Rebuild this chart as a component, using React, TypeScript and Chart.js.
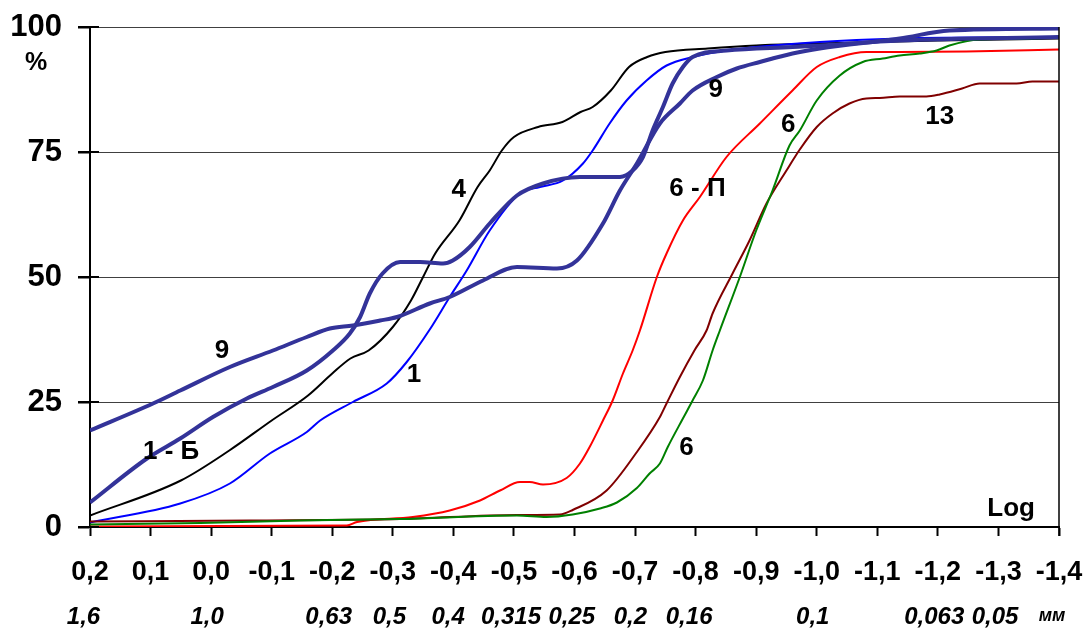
import React, { useEffect, useRef } from 'react';
import { Chart, registerables } from 'chart.js';
Chart.register(...registerables);

const FONT = 'Arial, "Liberation Sans", sans-serif';

// log10 of grain size (mm) on the x axis, cumulative % on the y axis
const xMin = -1.4;
const xMax = 0.2;
const yMin = 0;
const yMax = 100;

// second row of x labels: grain size in mm
const mmValues = [1.6, 1.0, 0.63, 0.5, 0.4, 0.315, 0.25, 0.2, 0.16, 0.1, 0.063, 0.05];
const mmLabels = ['1,6', '1,0', '0,63', '0,5', '0,4', '0,315', '0,25', '0,2', '0,16', '0,1', '0,063', '0,05'];

// curve 9
const c9X = [0.2, 0.096, 0.051, -0.031, -0.102, -0.158, -0.196, -0.234, -0.279, -0.307, -0.361, -0.394, -0.449, -0.505, -0.571, -0.604, -0.647, -0.675, -0.703, -0.741, -0.774, -0.795, -0.835, -0.868, -0.906, -0.96, -1.005, -1.137, -1.219, -1.4];
const c9Y = [19.3, 24.7, 27.3, 32, 35.3, 38, 39.7, 40.3, 41.3, 42, 44.7, 46, 49.3, 52, 51.7, 53.3, 60.7, 67.3, 72.7, 80.7, 84.7, 87.3, 90, 91.7, 93, 94.7, 95.7, 97.7, 99.3, 99.7];

// curve 1 - Б
const c1bX = [0.2, 0.106, 0.051, -0.003, -0.059, -0.102, -0.158, -0.201, -0.229, -0.246, -0.262, -0.283, -0.312, -0.345, -0.383, -0.399, -0.427, -0.46, -0.505, -0.548, -0.609, -0.675, -0.696, -0.713, -0.729, -0.746, -0.762, -0.779, -0.795, -0.851, -0.96, -1.005, -1.137, -1.4];
const c1bY = [4.9, 13.7, 17.7, 22, 25.7, 28, 31.3, 35.3, 38.7, 42, 46.7, 50.7, 53, 53, 52.7, 53.3, 56, 60.7, 66.3, 68.7, 70, 70, 71.3, 74, 79.3, 84, 88.7, 92, 94, 95.3, 96, 96.3, 97.3, 98];

// curve 4
const c4X = [0.2, 0.05, -0.03, -0.1, -0.16, -0.2, -0.23, -0.26, -0.3, -0.33, -0.35, -0.37, -0.41, -0.44, -0.46, -0.48, -0.5, -0.54, -0.58, -0.61, -0.63, -0.66, -0.69, -0.72, -0.75, -0.82, -0.9, -1.0, -1.2, -1.4];
const c4Y = [2.3, 9.3, 15.3, 21.3, 26.3, 30.7, 33.7, 35.3, 40, 45.3, 50, 54.7, 61.3, 68, 71.3, 75.3, 78, 80, 81, 83, 84, 87.3, 92, 94, 95, 95.7, 96.3, 96.7, 97.3, 97.7];

// curve 1
const c1X = [0.2, 0.051, -0.031, -0.097, -0.158, -0.18, -0.234, -0.29, -0.323, -0.361, -0.394, -0.422, -0.46, -0.51, -0.543, -0.581, -0.614, -0.63, -0.658, -0.686, -0.719, -0.752, -0.795, -0.851, -1.005, -1.137, -1.4];
const c1Y = [0.9, 4.7, 8.7, 14.7, 19, 21.3, 25, 28.7, 33, 39.5, 46, 51.3, 59.3, 66.7, 68, 69.3, 72.7, 75.3, 80.7, 85.3, 89.3, 92.3, 94, 95.3, 97, 97.7, 98];

// curve 6 - П
const c6pX = [0.2, -0.224, -0.241, -0.333, -0.394, -0.444, -0.477, -0.51, -0.526, -0.548, -0.587, -0.609, -0.625, -0.647, -0.663, -0.68, -0.696, -0.708, -0.736, -0.752, -0.779, -0.807, -0.851, -0.906, -0.96, -1.0, -1.038, -1.082, -1.137, -1.247, -1.4];
const c6pY = [0.1, 0.3, 1, 2, 3.3, 5.3, 7.3, 9, 9, 8.5, 9.8, 12.7, 16, 21.3, 25.3, 30.7, 35.3, 39.3, 50, 54.7, 61.3, 66, 74, 80.7, 87.3, 92, 94, 95, 95, 95.1, 95.5];

// curve 13
const c13X = [0.2, -0.064, -0.312, -0.505, -0.576, -0.597, -0.653, -0.703, -0.741, -0.752, -0.774, -0.798, -0.818, -0.828, -0.861, -0.889, -0.917, -0.95, -0.972, -1.0, -1.026, -1.054, -1.082, -1.104, -1.137, -1.181, -1.203, -1.24, -1.269, -1.33, -1.356, -1.4];
const c13Y = [1.1, 1.3, 1.6, 2.4, 2.5, 3.4, 7.3, 15, 22, 24.7, 30, 35.3, 39.3, 42.7, 50.7, 57.3, 64.7, 71.3, 75.5, 80, 82.7, 84.7, 85.7, 85.8, 86.1, 86.1, 86.5, 87.7, 88.7, 88.7, 89.1, 89.1];

// curve 6
const c6X = [0.2, 0.018, -0.147, -0.312, -0.505, -0.554, -0.597, -0.642, -0.67, -0.703, -0.724, -0.741, -0.754, -0.779, -0.795, -0.812, -0.828, -0.84, -0.873, -0.9, -0.927, -0.955, -0.972, -1.0, -1.038, -1.076, -1.109, -1.137, -1.17, -1.198, -1.219, -1.269, -1.356, -1.4];
const c6Y = [0.5, 0.8, 1.3, 1.6, 2.3, 2, 2.5, 3.7, 4.9, 7.8, 10.7, 12.7, 16, 21.7, 25.3, 29.3, 35.3, 39.3, 50, 59.3, 67.3, 76.3, 79.3, 85.3, 90.3, 93, 93.7, 94.3, 94.7, 95.3, 96.3, 97.5, 97.7, 98];

// curve captions
const captionTexts = ['9', '1 - Б', '1', '4', '9', '6 - П', '6', '13', '6', 'Log'];
const captionX = [-0.018, 0.066, -0.335, -0.409, -0.833, -0.803, -0.953, -1.203, -0.785, -1.321];
const captionY = [35.3, 15.1, 30.5, 67.5, 87.5, 67.7, 80.5, 82.1, 15.9, 3.7];

const pts = (xs: number[], ys: number[]) => xs.map((x, i) => ({ x, y: ys[i] }));

const fmtX = (v: number) => {
  const n = Math.round(v * 10) / 10;
  if (Math.abs(n) < 1e-9) return '0,0';
  return n.toFixed(1).replace('.', ',');
};

const extras = {
  id: 'extras',
  afterDraw(chart: any) {
    const { ctx, chartArea, scales } = chart;
    const xs = scales.x;
    const ys = scales.y;
    ctx.save();
    // right border
    ctx.strokeStyle = '#000';
    ctx.lineWidth = 1.5;
    ctx.beginPath();
    ctx.moveTo(chartArea.right, chartArea.top);
    ctx.lineTo(chartArea.right, chartArea.bottom + 9);
    ctx.stroke();
    // y tick marks crossing the axis
    ctx.lineWidth = 2;
    [0, 25, 50, 75, 100].forEach((v) => {
      const py = ys.getPixelForValue(v);
      ctx.beginPath();
      ctx.moveTo(chartArea.left - 12, py);
      ctx.lineTo(chartArea.left + 9, py);
      ctx.stroke();
    });
    ctx.fillStyle = '#000';
    ctx.textAlign = 'center';
    ctx.textBaseline = 'middle';
    // % label
    ctx.font = `bold 25px ${FONT}`;
    ctx.fillText('%', 36, chartArea.top + 36);
    // mm row
    ctx.font = `italic bold 24px ${FONT}`;
    mmValues.forEach((m, i) => {
      const px = xs.getPixelForValue(Math.log10(m));
      ctx.fillText(mmLabels[i], px - 4, chartArea.bottom + 90);
    });
    ctx.font = `italic bold 18px ${FONT}`;
    ctx.fillText('мм', chartArea.right - 7, chartArea.bottom + 89);
    // captions
    ctx.font = `bold 26px ${FONT}`;
    captionTexts.forEach((t, i) => {
      ctx.fillText(t, xs.getPixelForValue(captionX[i]), ys.getPixelForValue(captionY[i]));
    });
    ctx.restore();
  },
};

export default function App() {
  const ref = useRef<HTMLCanvasElement>(null);
  useEffect(() => {
    if (!ref.current) return;
    const mk = (data: any[], color: string, width: number) => ({
      data,
      borderColor: color,
      backgroundColor: color,
      borderWidth: width,
      pointRadius: 0,
      cubicInterpolationMode: 'monotone',
      fill: false,
    });
    const chart = new Chart(ref.current, {
      type: 'line',
      data: {
        datasets: [
          mk(pts(c9X, c9Y), '#333399', 4),
          mk(pts(c1bX, c1bY), '#333399', 4),
          mk(pts(c6X, c6Y), '#008000', 2),
          mk(pts(c13X, c13Y), '#800000', 2),
          mk(pts(c6pX, c6pY), '#ff0000', 2),
          mk(pts(c1X, c1Y), '#0000ff', 2),
          mk(pts(c4X, c4Y), '#000000', 2),
        ],
      },
      options: {
        responsive: false,
        animation: false,
        layout: { padding: { top: 27, right: 28, left: 0, bottom: 0 } },
        plugins: { legend: { display: false }, tooltip: { enabled: false } },
        scales: {
          x: {
            type: 'linear',
            reverse: true,
            min: xMin,
            max: xMax,
            afterFit: (s: any) => {
              s.height = 104;
              s.paddingLeft = 0;
              s.paddingRight = 0;
              s.paddingTop = 0;
              s.paddingBottom = 0;
            },
            ticks: {
              stepSize: 0.1,
              autoSkip: false,
              maxRotation: 0,
              padding: 20,
              color: '#000',
              font: { family: FONT, size: 27, weight: 'bold' },
              callback: (v: any) => fmtX(Number(v)),
            },
            grid: { drawOnChartArea: false, drawTicks: true, tickLength: 9, tickColor: '#000', tickWidth: 2 },
            border: { color: '#000', width: 2 },
          },
          y: {
            min: yMin,
            max: yMax,
            afterFit: (s: any) => {
              s.width = 90;
              s.paddingLeft = 0;
              s.paddingRight = 0;
              s.paddingTop = 0;
              s.paddingBottom = 0;
            },
            ticks: {
              stepSize: 25,
              padding: 16,
              color: '#000',
              font: { family: FONT, size: 31, weight: 'bold' },
            },
            grid: { color: '#404040', lineWidth: 1, drawTicks: true, tickLength: 12, tickColor: '#000', tickWidth: 2 },
            border: { color: '#000', width: 2 },
          },
        },
      },
      plugins: [extras],
    });
    return () => chart.destroy();
  }, []);
  return (
    <div style={{ position: 'absolute', left: 0, top: 0, width: 1087, height: 631, background: '#fff', overflow: 'hidden' }}>
      <canvas ref={ref} width={1087} height={631} />
    </div>
  );
}
